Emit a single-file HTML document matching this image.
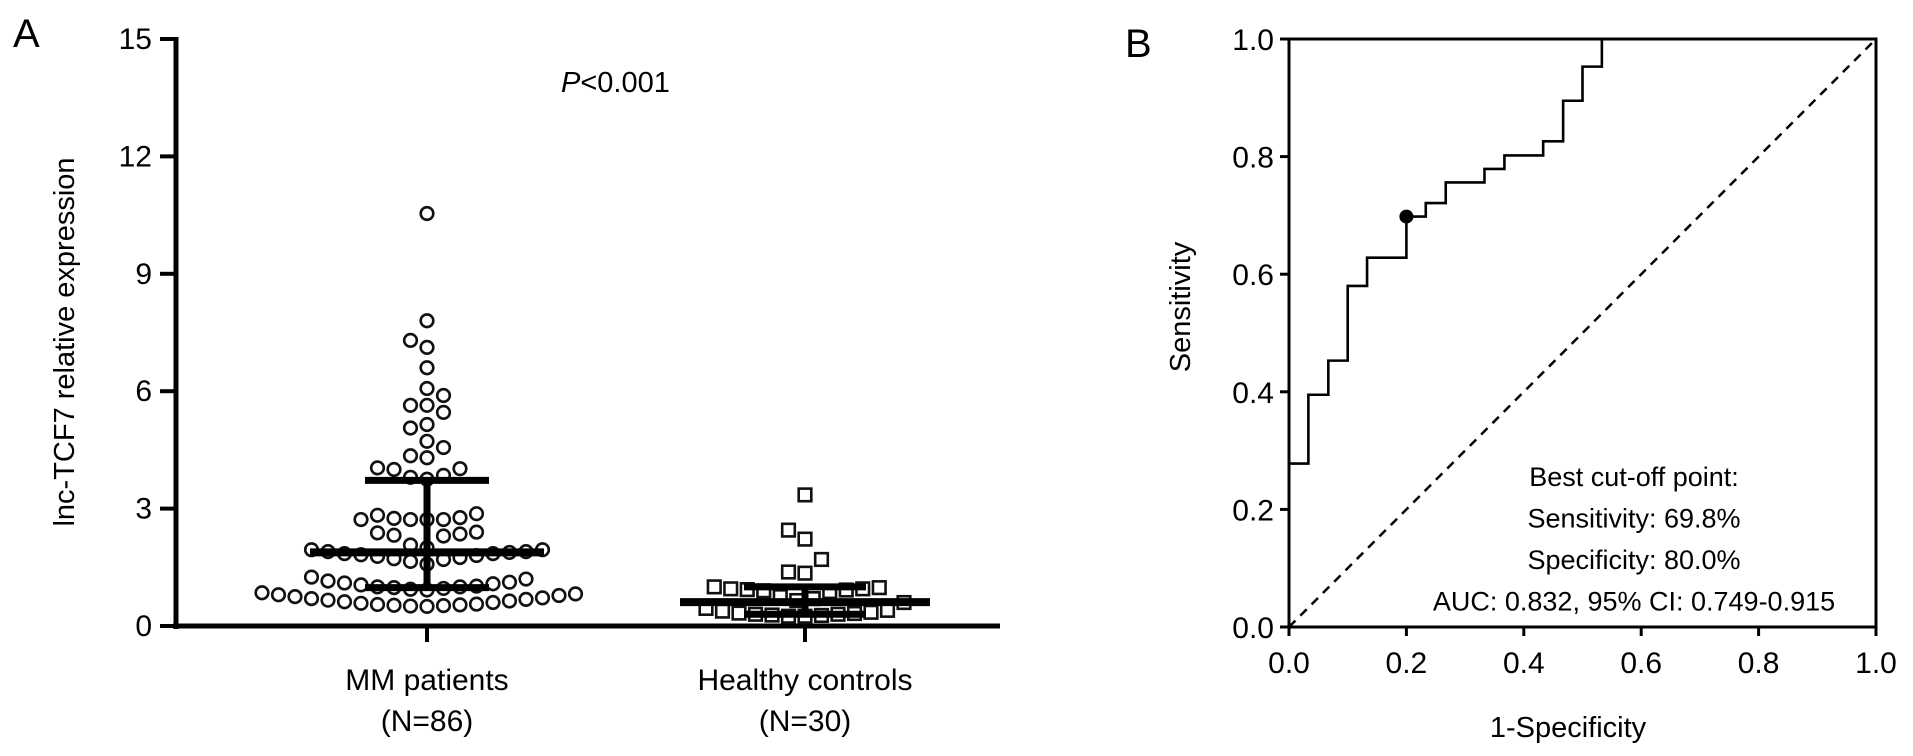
<!DOCTYPE html>
<html><head><meta charset="utf-8"><style>
html,body{margin:0;padding:0;background:#fff;}
svg{display:block;font-family:"Liberation Sans",Arial,sans-serif;}
</style></head><body>
<svg id="fig" width="1913" height="756" viewBox="0 0 1913 756">
<g id="panelA"></g>
<g id="panelB"></g>
</svg>
<script>
// Panel A data
const categoriesA = ["MM patients", "Healthy controls"];
const categoryNs = ["(N=86)", "(N=30)"];
const mmValues = [10.54,7.80,7.30,7.12,6.60,6.07,5.89,5.64,5.64,5.46,5.15,5.06,4.72,4.56,4.35,4.30,4.04,4.02,4.00,3.85,3.80,3.75,
 2.87,2.83,2.77,2.75,2.72,2.72,2.72,2.72,2.40,2.38,2.35,2.32,2.30,2.07,2.00,
 1.95,1.95,1.90,1.90,1.88,1.85,1.85,1.82,1.80,1.78,1.75,1.72,1.70,1.65,1.58,
 1.25,1.20,1.15,1.12,1.10,1.08,1.05,1.02,1.00,1.00,0.98,0.96,0.94,0.92,
 0.85,0.82,0.80,0.78,0.75,0.72,0.70,0.68,0.66,0.64,0.62,0.60,0.58,0.56,0.55,0.54,0.53,0.52,0.51,0.50];
const hcValues = [3.35,2.45,2.22,1.70,1.38,1.35,1.00,0.98,0.95,0.95,0.93,0.92,0.90,0.88,0.75,0.70,0.65,0.60,
 0.45,0.40,0.38,0.35,0.33,0.32,0.30,0.30,0.28,0.27,0.25,0.25];
const mmStats = [0.98, 1.88, 3.72];   // Q1, median, Q3
const hcStats = [0.30, 0.61, 1.00];
const yTicksA = [0,3,6,9,12,15];
// Panel B data
const rocFpr = [0,0,0.033,0.033,0.067,0.067,0.1,0.1,0.133,0.133,0.2,0.2,0.233,0.233,0.267,0.267,0.333,0.333,0.367,0.367,0.433,0.433,0.467,0.467,0.5,0.5,0.533,0.533,1.0];
const rocTpr = [0,0.278,0.278,0.395,0.395,0.453,0.453,0.58,0.58,0.628,0.628,0.698,0.698,0.721,0.721,0.756,0.756,0.779,0.779,0.802,0.802,0.826,0.826,0.895,0.895,0.953,0.953,1.0,1.0];
const cutoffPoint = [0.2, 0.698];
const ticksB = [0,0.2,0.4,0.6,0.8,1.0];
const tickLabelsB = ["0.0","0.2","0.4","0.6","0.8","1.0"];
const annotLines = ["Best cut-off point:","Sensitivity: 69.8%","Specificity: 80.0%","AUC: 0.832, 95% CI: 0.749-0.915"];

const NS="http://www.w3.org/2000/svg";
function mk(parent,tag,attrs,text){const e=document.createElementNS(NS,tag);for(const k in attrs)e.setAttribute(k,attrs[k]);if(text!==undefined)e.textContent=text;parent.appendChild(e);return e;}

// ---- Panel A
const A=document.getElementById('panelA');
const ax0=176, ax1=1000, ay0=626, ay1=39;
const yA=v=>ay0-(v/15)*(ay0-ay1);
const catX=[427,805];
let t;
t=mk(A,'text',{x:13,y:47,'font-size':40});t.textContent='A';

let l=mk(A,'line',{x1:ax0,y1:ay1-2,x2:ax0,y2:ay0+3,stroke:'#000','stroke-width':5});

l=mk(A,'line',{x1:ax0-3,y1:ay0,x2:ax1,y2:ay0,stroke:'#000','stroke-width':5});

yTicksA.forEach(v=>{
  const tk=mk(A,'line',{x1:160,y1:yA(v),x2:ax0,y2:yA(v),stroke:'#000','stroke-width':4});
  
  const tl=mk(A,'text',{x:152,y:yA(v)+10,'font-size':30,'text-anchor':'end'},String(v));
  
});
categoriesA.forEach((c,i)=>{
  const tk=mk(A,'line',{x1:catX[i],y1:ay0,x2:catX[i],y2:642,stroke:'#000','stroke-width':4});
  
  const t1=mk(A,'text',{x:catX[i],y:690,'font-size':30,'text-anchor':'middle'},c);
  
  const t2=mk(A,'text',{x:catX[i],y:731,'font-size':30,'text-anchor':'middle'},categoryNs[i]);
  
});
t=mk(A,'text',{x:-342,y:74,'font-size':29,'text-anchor':'middle',transform:'rotate(-90)'},'lnc-TCF7 relative expression');

t=mk(A,'text',{x:561,y:92,'font-size':29});
mk(t,'tspan',{'font-style':'italic'},'P');mk(t,'tspan',{},'<0.001');


// beeswarm layout (collision-based)
function swarm(vals,cx,d){
  const placed=[];
  [...vals].sort((a,b)=>a-b).forEach(v=>{
    const y=yA(v);
    for(let k=0;k<200;k++){
      const off=(k%2===0?1:-1)*Math.ceil(k/2)*d*0.5;
      const x=cx+off;
      if(placed.every(p=>(p[0]-x)**2+(p[1]-y)**2>=d*d*0.97)){placed.push([x,y]);break;}
    }
  });
  return placed;
}
swarm(mmValues,catX[0],16.5).forEach(p=>{
  const c=mk(A,'circle',{cx:p[0],cy:p[1],r:6.3,fill:'#fff',stroke:'#111','stroke-width':2.6});
  
});
swarm(hcValues,catX[1],16.5).forEach(p=>{
  const s=mk(A,'rect',{x:p[0]-6.3,y:p[1]-6.3,width:12.6,height:12.6,fill:'#fff',stroke:'#111','stroke-width':2.6});
  
});
function errbar(stats,cx,medHalf,qHalf,nm){
  const g=mk(A,'g',{});
  
  mk(g,'line',{x1:cx,y1:yA(stats[0]),x2:cx,y2:yA(stats[2]),stroke:'#000','stroke-width':7});
  mk(g,'line',{x1:cx-qHalf,y1:yA(stats[0]),x2:cx+qHalf,y2:yA(stats[0]),stroke:'#000','stroke-width':7});
  mk(g,'line',{x1:cx-qHalf,y1:yA(stats[2]),x2:cx+qHalf,y2:yA(stats[2]),stroke:'#000','stroke-width':7});
  mk(g,'line',{x1:cx-medHalf,y1:yA(stats[1]),x2:cx+medHalf,y2:yA(stats[1]),stroke:'#000','stroke-width':8});
}
errbar(mmStats,catX[0],117,62,'mm-median-iqr');
errbar(hcStats,catX[1],125,61,'hc-median-iqr');

// ---- Panel B
const B=document.getElementById('panelB');
const bx0=1289,bx1=1876,by0=627,by1=39;
const xB=v=>bx0+v*(bx1-bx0), yB=v=>by0-v*(by0-by1);
t=mk(B,'text',{x:1125,y:57,'font-size':40},'B');

let f=mk(B,'rect',{x:bx0,y:by1,width:bx1-bx0,height:by0-by1,fill:'none',stroke:'#000','stroke-width':3});

ticksB.forEach((v,i)=>{
  const a=mk(B,'line',{x1:1280,y1:yB(v),x2:bx0,y2:yB(v),stroke:'#000','stroke-width':3});
  
  const b=mk(B,'text',{x:1274,y:yB(v)+11,'font-size':30,'text-anchor':'end'},tickLabelsB[i]);
  
  const c=mk(B,'line',{x1:xB(v),y1:by0,x2:xB(v),y2:636,stroke:'#000','stroke-width':3});
  
  const d=mk(B,'text',{x:xB(v),y:673,'font-size':30,'text-anchor':'middle'},tickLabelsB[i]);
  
});
l=mk(B,'line',{x1:xB(0),y1:yB(0),x2:xB(1),y2:yB(1),stroke:'#000','stroke-width':2.5,'stroke-dasharray':'9,7'});

const pts=rocFpr.map((x,i)=>xB(x)+','+yB(rocTpr[i])).join(' ');
const roc=mk(B,'polyline',{points:pts,fill:'none',stroke:'#000','stroke-width':2.6});

const cp=mk(B,'circle',{cx:xB(cutoffPoint[0]),cy:yB(cutoffPoint[1]),r:7,fill:'#000'});

annotLines.forEach((s,i)=>{
  const a=mk(B,'text',{x:1634,y:486+i*41.5,'font-size':27,'text-anchor':'middle'},s);
  
});
t=mk(B,'text',{x:-307,y:1190,'font-size':29,'text-anchor':'middle',transform:'rotate(-90)'},'Sensitivity');

t=mk(B,'text',{x:1568,y:737,'font-size':29,'text-anchor':'middle'},'1-Specificity');

</script>
</body></html>
